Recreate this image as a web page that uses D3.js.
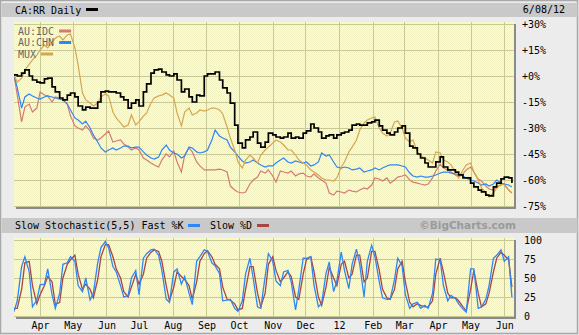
<!DOCTYPE html>
<html><head><meta charset="utf-8">
<script src="https://cdn.jsdelivr.net/npm/d3@7"></script>
<style>html,body{margin:0;padding:0;background:#ececec;}svg{display:block;}</style>
</head><body><svg id="c" width="579" height="335"></svg>
<script>
// ---- data -------------------------------------------------------------
const title = "CA:RR Daily";
const asOf = "6/08/12";
const firstDay = new Date(2011, 2, 8);
const lastDay = new Date(2012, 5, 8);
// sampled sessions: every Tuesday and Friday of the period
const dates = d3.timeDay.range(firstDay, d3.timeDay.offset(lastDay, 1))
  .filter(d => d.getDay() === 2 || d.getDay() === 5);

// % change since the first session
const caRR = [0.6,0, 1.7,3.5, 0,-2.3, -3.5,-4.0, -1.7,-1.2, -6.3,-9.2, -12.7,-13.8, -11.0,-9.8, -12.1,-17.3, -19.6,-17.9, -18.5,-18.5, -15.0,-9.2, -8.7,-9.2, -9.2,-9.8, -12.1,-13.8, -18.5,-15.6, -13.8,-17.3, -9.2,-4.6, 1.7,3.5, 4.0,2.3, 0.6,0, 1.2,-2.3, -9.2,-7.5, -12.1,-15.0, -11.0,-11.5, 0,1.2, 1.2,2.3, -2.3,-6.9, -9.8,-15.6, -28.3,-38.7, -41.5,-36.9, -35.2,-32.3, -38.7,-41.0, -38.1,-32.9, -34.0,-35.2, -35.8,-35.2, -32.9,-35.8, -35.2,-35.8, -32.9,-31.7, -27.7,-30.0, -32.3,-35.8, -34.6,-34.0, -35.8,-34.0, -32.9,-32.3, -31.2,-28.3, -27.7,-28.3, -28.3,-27.1, -26.5,-25.4, -28.8,-31.2, -32.9,-34.0, -32.3,-30.0, -28.8,-32.9, -40.4,-41.5, -45.0,-47.3, -50.2,-52.5, -52.5,-49.6, -46.7,-52.5, -54.2,-54.2, -55.4,-57.1, -58.8,-58.8, -61.8,-64.0, -65.8,-66.9, -68.7,-69.2, -64.0,-61.8, -59.4,-58.3, -58.8,-61.8];
const auIDC = [0.6,-11.0, -26.5,-17.9, -16.2,-20.8, -18.5,-9.2, -11.0,-11.5, -15.0,-12.1, -12.7,-13.8, -16.2,-23.1, -28.8,-30.0, -31.2,-28.8, -31.7,-35.8, -36.9,-35.8, -33.5,-31.7, -38.1,-37.5, -36.9,-39.2, -41.0,-42.7, -41.5,-42.7, -47.3,-48.5, -50.2,-51.3, -52.5,-48.5, -45.0,-46.7, -43.3,-49.6, -55.4,-45.6, -41.5,-43.8, -49.6,-51.9, -54.2,-54.2, -54.2,-54.2, -53.7,-54.2, -55.4,-63.5, -65.8,-66.9, -67.5,-66.9, -62.3,-60.0, -58.3,-54.8, -56.0,-54.2, -57.7,-61.2, -54.8,-55.4, -56.0,-54.8, -57.7,-56.5, -56.0,-57.7, -58.3,-56.5, -58.8,-60.0, -61.8,-67.5, -68.7,-66.4, -66.9,-67.5, -65.8,-66.4, -66.9,-65.8, -64.6,-65.2, -62.9,-58.8, -59.4,-60.6, -58.8,-61.8, -60.0,-58.3, -57.7,-57.1, -60.0,-61.2, -61.8,-62.3, -62.9,-62.3, -58.8,-54.8, -50.8,-53.1, -54.2,-55.4, -57.1,-58.3, -56.5,-54.2, -52.5,-55.4, -59.4,-60.6, -63.5,-65.2, -65.8,-64.0, -62.9,-62.3, -65.8,-67.5];
const auCHN = [0.6,-6.9, -18.5,-12.1, -10.4,-11.5, -12.7,-13.3, -12.1,-11.5, -12.1,-12.7, -13.3,-13.8, -16.2,-19.6, -24.2,-25.4, -27.7,-26.0, -30.0,-34.0, -38.1,-41.5, -43.8,-42.7, -41.5,-42.7, -41.5,-40.4, -40.4,-41.5, -41.0,-41.0, -43.8,-45.6, -47.3,-47.9, -46.7,-42.7, -39.8,-42.7, -44.4,-45.0, -47.3,-46.2, -41.0,-41.5, -43.8,-44.4, -43.8,-42.7, -36.9,-31.2, -34.6,-35.8, -36.9,-41.0, -43.8,-46.2, -49.0,-50.2, -49.6,-48.5, -50.2,-51.3, -52.5,-51.9, -51.9,-50.2, -48.5,-47.3, -49.6,-50.2, -49.0,-49.6, -50.2,-49.6, -51.9,-51.3, -49.6,-44.4, -46.2,-45.6, -49.6,-52.5, -53.1,-52.5, -53.1,-54.2, -53.7,-53.1, -55.4,-54.8, -54.2,-53.1, -54.2,-53.1, -51.9,-51.3, -51.3,-51.3, -51.9,-52.5, -56.0,-57.7, -58.3,-57.7, -58.3,-58.3, -57.7,-57.1, -56.0,-55.4, -55.4,-56.0, -56.5,-57.1, -57.7,-58.8, -60.0,-60.6, -61.7,-62.9, -62.3,-63.5, -62.3,-60.0, -61.7,-62.3, -62.9,-64.0];
const mux = [0.6,-3.5, -1.2,3.5, 6.9,9.2, 12.1,15.0, 17.9,16.2, 19.6,21.9, 23.1,20.8, 23.7,24.2, 16.2,6.3, -9.8,-13.8, -15.6,-17.3, -15.6,-12.1, -10.4,-11.5, -20.8,-24.2, -27.1,-29.4, -28.3,-22.5, -28.3,-26.5, -23.1,-21.3, -15.6,-12.7, -11.5,-11.0, -9.8,-11.0, -12.7,-21.3, -28.8,-20.8, -18.5,-22.5, -21.3,-19.6, -20.2,-19.6, -18.5,-18.5, -19.6,-21.9, -29.4,-35.8, -42.7,-49.6, -53.1,-48.5, -45.6,-47.3, -50.2,-45.6, -42.7,-41.0, -38.7,-36.9, -38.1,-39.8, -42.7,-42.7, -45.6,-48.5, -50.2,-51.3, -54.2,-55.4, -57.1,-58.8, -60.0,-60.0, -60.6,-58.8, -52.5,-49.6, -43.8,-41.0, -36.9,-31.2, -27.1,-25.4, -24.2,-23.7, -30.0,-32.9, -34.6,-32.9, -26.5,-26.0, -30.0,-35.8, -38.1,-36.9, -43.8,-46.2, -47.3,-48.5, -50.2,-43.8, -44.4,-48.5, -49.6,-51.3, -55.4,-58.8, -54.2,-51.3, -50.2,-55.4, -60.0,-64.6, -67.5,-69.8, -67.5,-64.6, -62.3,-62.9, -65.8,-67.5];

// slow stochastic (5,5)
const fastK = [6,20, 65,78, 58,12, 21,41, 42,62, 28,10, 30,68, 70,78, 72,40, 32,50, 21,30, 70,90, 98,90, 65,58, 40,25, 27,50, 60,28, 76,82, 87,88, 80,60, 22,18, 58,62, 42,52, 30,15, 72,78, 87,85, 70,66, 56,20, 21,22, 10,6, 20,55, 76,50, 12,10, 52,82, 72,46, 40,58, 60,45, 8,35, 76,76, 78,40, 12,17, 56,71, 32,46, 84,60, 36,68, 88,68, 25,72, 93,78, 45,24, 22,22, 48,76, 66,28, 10,16, 18,10, 14,10, 30,75, 74,40, 20,27, 23,16, 9,5, 62,62, 10,12, 22,40, 76,80, 87,72, 78,25];
const slowD = [10,10, 35,70, 72,40, 16,28, 40,52, 45,15, 18,50, 68,74, 80,55, 35,42, 35,24, 48,78, 94,94, 78,62, 50,32, 25,38, 55,42, 55,76, 84,87, 85,72, 40,20, 38,58, 52,48, 40,22, 45,72, 82,86, 78,68, 62,38, 22,21, 16,8, 10,35, 65,65, 30,12, 30,68, 78,60, 45,50, 58,52, 25,22, 55,74, 78,58, 25,14, 38,64, 50,40, 68,72, 50,55, 80,80, 45,50, 85,85, 60,35, 24,22, 35,62, 72,45, 18,12, 16,14, 12,12, 20,55, 76,58, 30,24, 24,20, 12,7, 35,60, 30,12, 16,30, 58,76, 84,80, 74,38];

const pctTicks = [30, 15, 0, -15, -30, -45, -60, -75];
const pctLabels = ["+30%", "+15%", "+0%", "-15%", "-30%", "-45%", "-60%", "-75%"];
const stochTicks = [100, 75, 50, 25, 0];
const monthTicks = d3.timeMonth.range(new Date(2011, 3, 1), new Date(2012, 6, 1));
const monthLabels = ["Apr","May","Jun","Jul","Aug","Sep","Oct","Nov","Dec","12","Feb","Mar","Apr","May","Jun"];

const series = [
  { name: "AU:IDC", values: auIDC, color: "#d67a74" },
  { name: "AU:CHN", values: auCHN, color: "#2f86f6" },
  { name: "MUX",    values: mux,   color: "#d6a54e" }
];

// ---- layout -----------------------------------------------------------
const svg = d3.select("#c");
const mono = "'DejaVu Sans Mono', monospace";
const plotL = 14, plotR = 514;
const mainT = 22, mainB = 207;
const stT = 238, stB = 317;

const x = d3.scaleTime().domain([firstDay, new Date(2012, 5, 9)]).range([plotL, 513]);
const y = d3.scaleLinear().domain([-75, 30]).range([206, 24]);
const ys = d3.scaleLinear().domain([0, 100]).range([316, 240]);

const defs = svg.append("defs");
const pat = defs.append("pattern").attr("id", "paper")
  .attr("width", 2).attr("height", 2).attr("patternUnits", "userSpaceOnUse");
pat.append("rect").attr("width", 2).attr("height", 2).attr("fill", "#fdfdd4");
pat.append("rect").attr("width", 1).attr("height", 1).attr("fill", "#f1f1c2");
pat.append("rect").attr("x", 1).attr("y", 1).attr("width", 1).attr("height", 1).attr("fill", "#f1f1c2");
defs.append("clipPath").attr("id", "clipMain").append("rect")
  .attr("x", plotL).attr("y", mainT).attr("width", plotR - plotL).attr("height", mainB - mainT);
defs.append("clipPath").attr("id", "clipSt").append("rect")
  .attr("x", plotL).attr("y", stT).attr("width", plotR - plotL).attr("height", stB - stT);

// frame and header bars
svg.append("rect").attr("x", 0.5).attr("y", 0.5).attr("width", 577).attr("height", 333)
  .attr("fill", "#ececec").attr("stroke", "#a8a8a8").attr("stroke-width", 1.5);
svg.append("rect").attr("x", 1.5).attr("y", 3).attr("width", 576).attr("height", 14).attr("fill", "#c9c9c9");
svg.append("rect").attr("x", 1.5).attr("y", 218).attr("width", 576).attr("height", 15).attr("fill", "#c9c9c9");

svg.append("text").attr("x", 15).attr("y", 10).attr("dy", "0.35em")
  .attr("font-family", mono).attr("font-size", 10).attr("fill", "#000").text(title);
svg.append("rect").attr("x", 86).attr("y", 8).attr("width", 12).attr("height", 3).attr("fill", "#000");
svg.append("text").attr("x", 565).attr("y", 9.5).attr("dy", "0.35em").attr("text-anchor", "end")
  .attr("font-family", mono).attr("font-size", 10).attr("fill", "#000").text(asOf);

// plot panels with shadow
function panel(top, bottom) {
  svg.append("rect").attr("x", plotL + 2).attr("y", top + 2).attr("width", plotR - plotL).attr("height", bottom - top)
    .attr("fill", "#8a8a8a");
  svg.append("rect").attr("x", plotL).attr("y", top).attr("width", plotR - plotL).attr("height", bottom - top)
    .attr("fill", "url(#paper)");
}
panel(mainT, mainB);
panel(stT, stB);

const gridColor = "#c9c995";
function vGrid(top, bottom) {
  svg.append("g").selectAll("line").data(monthTicks).join("line")
    .attr("x1", d => Math.round(x(d)) + 0.5).attr("x2", d => Math.round(x(d)) + 0.5)
    .attr("y1", top).attr("y2", bottom).attr("stroke", gridColor).attr("stroke-width", 1);
}
vGrid(mainT, mainB);
vGrid(stT, stB);
svg.append("g").selectAll("line").data(pctTicks).join("line")
  .attr("x1", plotL).attr("x2", plotR)
  .attr("y1", d => Math.round(y(d)) + 0.5).attr("y2", d => Math.round(y(d)) + 0.5)
  .attr("stroke", gridColor).attr("stroke-width", 1);
svg.append("g").selectAll("line").data(stochTicks).join("line")
  .attr("x1", plotL).attr("x2", plotR)
  .attr("y1", d => Math.round(ys(d)) + 0.5).attr("y2", d => Math.round(ys(d)) + 0.5)
  .attr("stroke", gridColor).attr("stroke-width", 1);

// comparison lines
const line = d3.line().x((d, i) => x(dates[i])).y(d => y(d));
const gMain = svg.append("g").attr("clip-path", "url(#clipMain)");
series.forEach(s => {
  gMain.append("path").datum(s.values).attr("d", line)
    .attr("fill", "none").attr("stroke", s.color).attr("stroke-width", 1.2);
});
gMain.append("path").datum(caRR)
  .attr("d", d3.line().x((d, i) => x(dates[i])).y(d => y(d)).curve(d3.curveStepAfter))
  .attr("fill", "none").attr("stroke", "#000").attr("stroke-width", 1.7);

// legend inside the price panel
series.forEach((s, i) => {
  const cy = 31 + i * 11.5;
  svg.append("text").attr("x", 18).attr("y", cy).attr("dy", "0.35em")
    .attr("font-family", mono).attr("font-size", 10).attr("fill", "#666").text(s.name);
  svg.append("rect").attr("x", 18 + s.name.length * 6.02 + 5).attr("y", cy - 1.5)
    .attr("width", 12).attr("height", 3).attr("fill", s.color);
});

// right axis labels
svg.append("g").selectAll("text").data(pctTicks).join("text")
  .attr("x", 522).attr("y", d => y(d)).attr("dy", "0.35em")
  .attr("font-family", mono).attr("font-size", 10).attr("fill", "#000")
  .text((d, i) => pctLabels[i]);
svg.append("g").selectAll("text").data(stochTicks).join("text")
  .attr("x", 524).attr("y", d => ys(d)).attr("dy", "0.35em")
  .attr("font-family", mono).attr("font-size", 10).attr("fill", "#000")
  .text(d => d);

// stochastic header
svg.append("text").attr("x", 15).attr("y", 225.5).attr("dy", "0.35em")
  .attr("font-family", mono).attr("font-size", 10).attr("fill", "#000")
  .text("Slow Stochastic(5,5) Fast %K");
svg.append("rect").attr("x", 188).attr("y", 224).attr("width", 12).attr("height", 3).attr("fill", "#2f86f6");
svg.append("text").attr("x", 210).attr("y", 225.5).attr("dy", "0.35em")
  .attr("font-family", mono).attr("font-size", 10).attr("fill", "#000").text("Slow %D");
svg.append("rect").attr("x", 257).attr("y", 224).attr("width", 12).attr("height", 3).attr("fill", "#a84444");
svg.append("text").attr("x", 516).attr("y", 225.5).attr("dy", "0.35em").attr("text-anchor", "end")
  .attr("font-family", "'DejaVu Sans', sans-serif").attr("font-weight", "bold").attr("font-size", 10.5)
  .attr("fill", "#9a9a9a").text("©BigCharts.com");

// stochastic lines
const sLine = d3.line().x((d, i) => x(dates[i])).y(d => ys(d));
const gSt = svg.append("g").attr("clip-path", "url(#clipSt)");
gSt.append("path").datum(slowD).attr("d", sLine)
  .attr("fill", "none").attr("stroke", "#a84444").attr("stroke-width", 1.3);
gSt.append("path").datum(fastK).attr("d", sLine)
  .attr("fill", "none").attr("stroke", "#2f86f6").attr("stroke-width", 1.3);

// month axis
const xAxis = d3.axisBottom(x).tickValues(monthTicks).tickSize(0)
  .tickFormat((d, i) => monthLabels[i]);
const ax = svg.append("g").attr("transform", `translate(0,${stB + 2})`).call(xAxis);
ax.select(".domain").remove();
ax.selectAll("text").attr("font-family", mono).attr("font-size", 10).attr("fill", "#000").attr("dy", "0.71em").attr("y", 3);
</script></body></html>
